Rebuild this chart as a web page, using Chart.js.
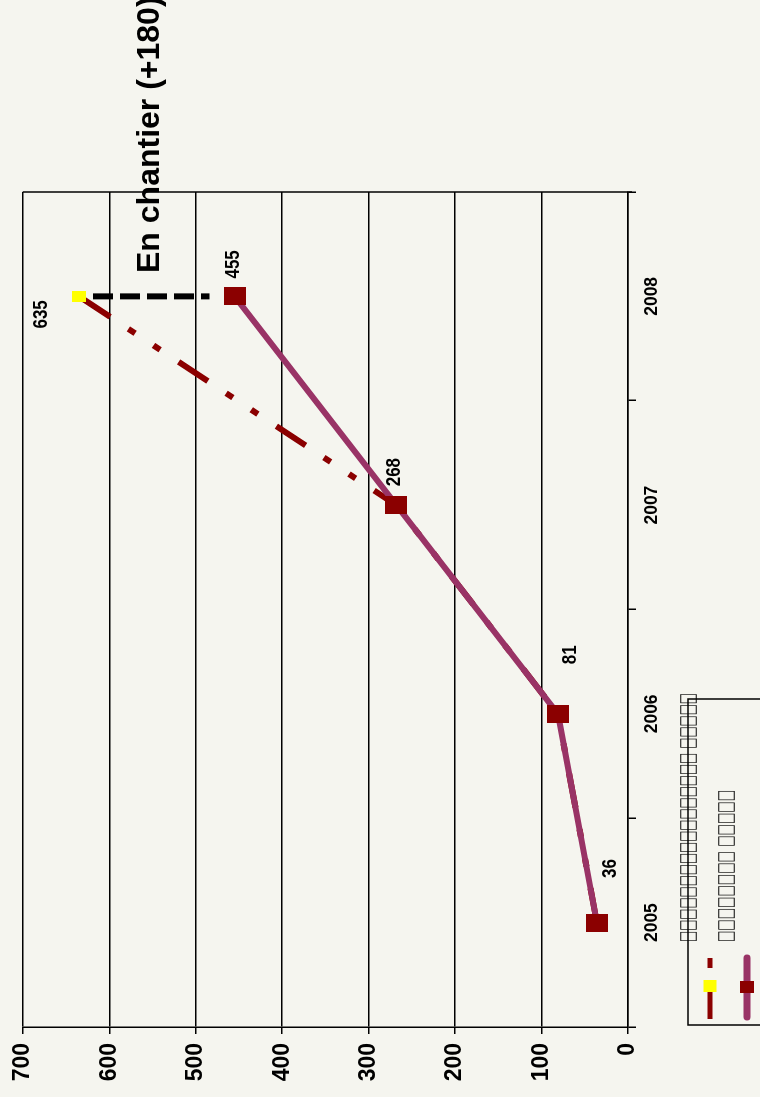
<!DOCTYPE html>
<html>
<head>
<meta charset="utf-8">
<script src="https://cdn.jsdelivr.net/npm/chart.js@4"></script>
<style>
  html, body { margin: 0; padding: 0; background: #f5f5ef; overflow: hidden; }
  /* chart is laid out landscape, then turned a quarter turn counter-clockwise */
  #wrap {
    position: absolute; left: 0; top: 0;
    width: 1097px; height: 760px;
    transform-origin: 0 0;
    transform: translateY(1097px) rotate(-90deg);
  }
</style>
</head>
<body>
<div id="wrap"><canvas id="chart" width="1097" height="760"></canvas></div>
<script>
const years = ['2005', '2006', '2007', '2008'];
const withSite = [36, 81, 268, 635];   // including sites under construction
const delivered = [36, 81, 268, 455];
const siteGap = [635, 455];
const yMax = 700;
const yStep = 100;
const titleText = 'En chantier (+180)';
const legendLabels = [
  '□'.repeat(17) + ' ' + '□'.repeat(5),
  '□'.repeat(8) + ' ' + '□'.repeat(5)
];

const FONT = '"Liberation Sans", Arial, sans-serif';
const DARK_RED = '#8b0000';
const PURPLE = '#993366';
const YELLOW = '#ffff00';

Chart.defaults.font.family = FONT;
Chart.defaults.color = '#000';

function rectImg(w, h, color) {
  const c = document.createElement('canvas');
  c.width = w; c.height = h;
  const g = c.getContext('2d');
  g.fillStyle = color;
  g.fillRect(0, 0, w, h);
  return c;
}

const extras = {
  id: 'extras',
  beforeDraw(chart) {
    const ctx = chart.ctx;
    ctx.save();
    ctx.fillStyle = '#f5f5ef';
    ctx.fillRect(0, 0, chart.width, chart.height);
    ctx.restore();
  },
  afterDatasetsDraw(chart) {
    const ctx = chart.ctx;
    const area = chart.chartArea;
    const xs = chart.scales.x, ys = chart.scales.y;

    // right edge of the plot
    ctx.save();
    ctx.strokeStyle = '#000';
    ctx.lineWidth = 1.5;
    ctx.beginPath();
    ctx.moveTo(area.right, area.top);
    ctx.lineTo(area.right, area.bottom + 4);
    ctx.stroke();

    // dashed bracket between the two 2008 values
    const gx = xs.getPixelForValue(3);
    ctx.strokeStyle = '#000';
    ctx.lineWidth = 6;
    ctx.setLineDash([20, 7]);
    ctx.beginPath();
    ctx.moveTo(gx, ys.getPixelForValue(siteGap[0]) + 14);
    ctx.lineTo(gx, ys.getPixelForValue(siteGap[1]) - 25);
    ctx.stroke();
    ctx.setLineDash([]);

    // value labels
    ctx.fillStyle = '#000';
    ctx.font = 'bold 17px ' + FONT;
    ctx.textAlign = 'center';
    ctx.textBaseline = 'middle';
    const drawLabel = (text, x, y) => {
      ctx.save();
      ctx.translate(x, y);
      ctx.scale(1, 1.2);
      ctx.fillText(text, 0, 0);
      ctx.restore();
    };
    const offs = [[54, 13], [59, 12], [33, -2], [32, -1]];
    const m1 = chart.getDatasetMeta(1);
    m1.data.forEach((p, i) => drawLabel(String(delivered[i]), p.x + offs[i][0], p.y + offs[i][1]));
    const p0 = chart.getDatasetMeta(0).data[3];
    drawLabel(String(withSite[3]), p0.x - 18, p0.y - 38);

    // annotation
    ctx.font = 'bold 32px ' + FONT;
    ctx.textAlign = 'left';
    ctx.textBaseline = 'alphabetic';
    ctx.fillText(titleText, 824, 159);

    // legend
    ctx.strokeStyle = '#000';
    ctx.lineWidth = 1.5;
    ctx.strokeRect(72, 688, 326, 100);

    ctx.strokeStyle = DARK_RED;
    ctx.lineWidth = 5;
    ctx.setLineDash([30, 21, 10, 21]);
    ctx.beginPath(); ctx.moveTo(78, 710); ctx.lineTo(140, 710); ctx.stroke();
    ctx.setLineDash([]);
    ctx.fillStyle = YELLOW;
    ctx.fillRect(105, 703.5, 12, 13);

    ctx.strokeStyle = PURPLE;
    ctx.lineWidth = 7;
    ctx.lineCap = 'round';
    ctx.beginPath(); ctx.moveTo(80, 747); ctx.lineTo(139, 747); ctx.stroke();
    ctx.lineCap = 'butt';
    ctx.fillStyle = DARK_RED;
    ctx.fillRect(104, 740, 12, 14);

    ctx.fillStyle = '#000';
    ctx.font = 'bold 20px "DejaVu Sans"';
    ctx.textAlign = 'left';
    ctx.textBaseline = 'alphabetic';
    const rows = [[legendLabels[0], 155, 680, 249], [legendLabels[1], 155, 718, 152]];
    rows.forEach(([text, x, top, w]) => {
      const m = ctx.measureText(text);
      const h = m.actualBoundingBoxAscent + m.actualBoundingBoxDescent;
      ctx.save();
      ctx.translate(x, top);
      ctx.scale(w / m.width, 17 / h);
      ctx.fillText(text, 0, m.actualBoundingBoxAscent);
      ctx.restore();
    });
    ctx.restore();
  }
};

new Chart(document.getElementById('chart'), {
  type: 'line',
  data: {
    labels: years,
    datasets: [{
      label: legendLabels[0],
      data: withSite,
      borderColor: DARK_RED,
      borderWidth: 6,
      borderDash: [35, 22, 8, 22, 8, 22],
      pointStyle: rectImg(11, 14, YELLOW),
      pointRadius: 7,
      order: 2
    }, {
      label: legendLabels[1],
      data: delivered,
      borderColor: PURPLE,
      borderWidth: 6,
      borderJoinStyle: 'round',
      pointStyle: rectImg(18, 22, DARK_RED),
      pointRadius: 11,
      order: 1
    }]
  },
  options: {
    responsive: false,
    animation: false,
    layout: { padding: { top: 22, right: 192, bottom: 0, left: 0 } },
    plugins: { legend: { display: false }, tooltip: { enabled: false } },
    scales: {
      x: {
        offset: true,
        grid: { display: true, offset: true, drawOnChartArea: false, color: '#000', lineWidth: 1.5, tickLength: 8 },
        border: { display: true, color: '#000', width: 1.5 },
        ticks: { font: { size: 17.5, weight: 'bold' }, padding: 6, maxRotation: 0 },
        afterFit(scale) { scale.height = 132; }
      },
      y: {
        min: 0,
        max: yMax,
        grid: { color: '#000', lineWidth: 1.5, tickLength: 7 },
        border: { display: true, color: '#000', width: 1.5 },
        ticks: { stepSize: yStep, font: { size: 23, weight: 'bold' }, padding: 9 },
        afterFit(scale) { scale.width = 70; }
      }
    }
  },
  plugins: [extras]
});
</script>
</body>
</html>
